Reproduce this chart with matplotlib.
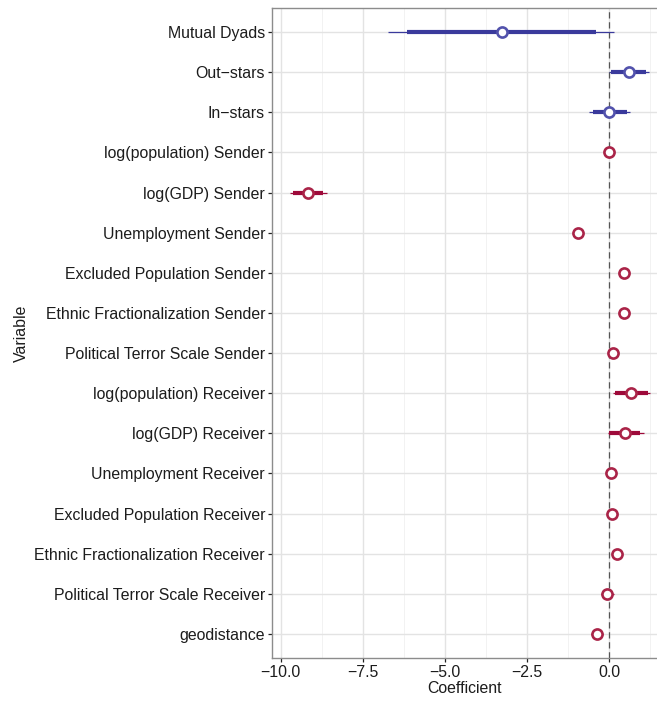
import matplotlib.pyplot as plt
import numpy as np
from matplotlib.ticker import MultipleLocator

plt.rcParams['font.family'] = ['Liberation Sans', 'DejaVu Sans']

# --- DATA ---
variables = [
    'Mutual Dyads', 'Out\u2212stars', 'In\u2212stars',
    'log(population) Sender', 'log(GDP) Sender', 'Unemployment Sender',
    'Excluded Population Sender', 'Ethnic Fractionalization Sender',
    'Political Terror Scale Sender', 'log(population) Receiver',
    'log(GDP) Receiver', 'Unemployment Receiver',
    'Excluded Population Receiver', 'Ethnic Fractionalization Receiver',
    'Political Terror Scale Receiver', 'geodistance',
]
group = ['net', 'net', 'net'] + ['cov'] * 13

coef = [-3.27, 0.59, 0.00, -0.02, -9.16, -0.95, 0.45, 0.46,
        0.10, 0.66, 0.48, 0.04, 0.07, 0.24, -0.06, -0.38]
# inner (thick) interval
lo_in = [-6.15, 0.06, -0.50, -0.06, -9.62, -1.05, 0.41, 0.42,
         0.00, 0.17, 0.00, 0.00, 0.03, 0.14, -0.18, -0.48]
hi_in = [-0.40, 1.12, 0.53, 0.02, -8.70, -0.85, 0.49, 0.50,
         0.20, 1.19, 0.93, 0.08, 0.11, 0.34, 0.06, -0.28]
# outer (thin) interval
lo_out = [-6.72, 0.00, -0.62, -0.08, -9.72, -1.10, 0.39, 0.40,
          -0.05, 0.10, -0.05, -0.02, 0.01, 0.09, -0.25, -0.55]
hi_out = [0.14, 1.22, 0.64, 0.04, -8.60, -0.80, 0.51, 0.52,
          0.27, 1.24, 1.04, 0.10, 0.13, 0.38, 0.15, -0.20]

colors = {'net': '#3a3a9c', 'cov': '#9e0a3a'}
edge = {'net': '#5252ac', 'cov': '#aa2448'}
FS = 11.4

fig = plt.figure(figsize=(6.57, 7.02), dpi=100)
ax = fig.add_axes([272 / 657, 1 - 658 / 702, 1 - 272 / 657, 650 / 702])

n = len(variables)
ypos = np.arange(n)[::-1]

ax.axvline(0, color='#555555', linestyle=(0, (5, 3)), linewidth=0.9, zorder=2)

for i in range(n):
    c = colors[group[i]]
    ax.plot([lo_out[i], hi_out[i]], [ypos[i]] * 2, color=c, linewidth=0.9,
            solid_capstyle='butt', zorder=3)
    ax.plot([lo_in[i], hi_in[i]], [ypos[i]] * 2, color=c, linewidth=3,
            solid_capstyle='butt', zorder=3)
    ax.plot(coef[i], ypos[i], 'o', markersize=7.3, markerfacecolor='white',
            markeredgecolor=edge[group[i]], markeredgewidth=1.9, zorder=4)

ax.set_yticks(ypos)
ax.set_yticklabels(variables)
ax.set_ylim(-0.6, n - 0.4)
ax.set_xlim(-10.26, 1.45)
ax.xaxis.set_minor_locator(MultipleLocator(1.25))
ax.set_xticks([-10, -7.5, -5, -2.5, 0])
ax.set_xticklabels(['\u221210.0', '\u22127.5', '\u22125.0', '\u22122.5', '0.0'])

ax.grid(True, which='major', color='#e3e3e3', linewidth=1.0, zorder=0)
ax.grid(True, which='minor', axis='x', color='#f2f2f2', linewidth=0.7, zorder=0)
ax.set_axisbelow(True)

for side in ['left', 'bottom', 'top']:
    ax.spines[side].set_color('#8c8c8c')
    ax.spines[side].set_linewidth(1.0)
ax.spines['right'].set_visible(False)

ax.tick_params(axis='both', which='major', length=3, width=0.9, color='#222222',
               labelsize=FS, labelcolor='#1c1c1c', pad=2)
ax.tick_params(axis='x', which='minor', length=0)

ax.set_xlabel('Coefficient', fontsize=FS, color='#1c1c1c', labelpad=1)
ax.set_ylabel('Variable', fontsize=FS, color='#1c1c1c', labelpad=4)

fig.savefig('out.png', dpi=100)
